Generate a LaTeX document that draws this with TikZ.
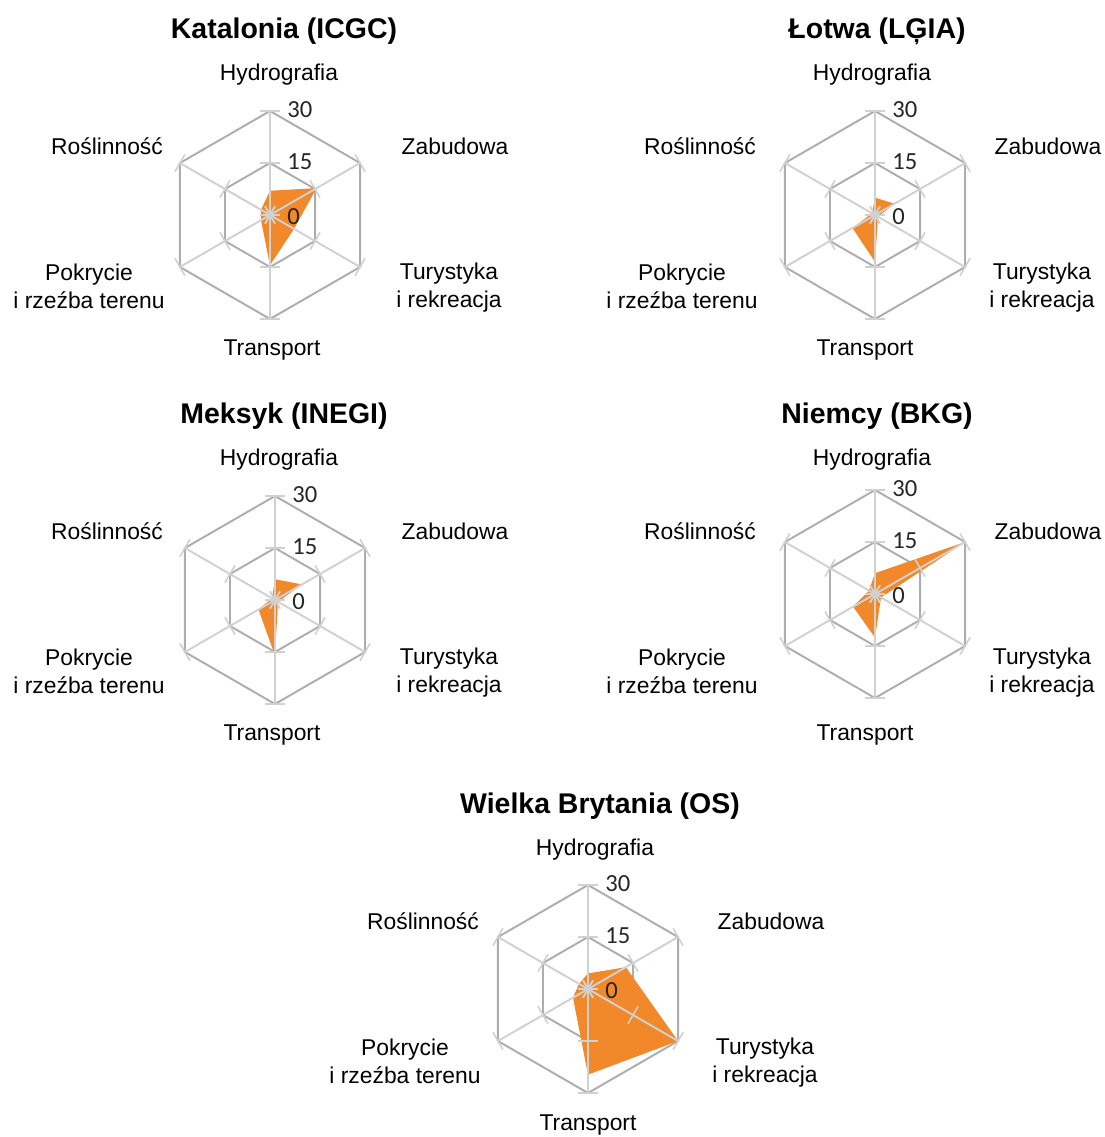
\documentclass[tikz,border=0pt]{standalone}
\usepackage{fontspec}
\setmainfont{Liberation Sans}
\newfontfamily\numfont{Carlito}
\definecolor{radarorange}{RGB}{241,136,41}

\begin{document}
\begin{tikzpicture}[x=0.02cm, y=0.02cm,
	grid/.style={draw=black!32, line width=1.1pt},
	spoke/.style={draw=black!18, line width=1.1pt},
	lab/.style={font=\fontsize{13}{16}\selectfont, align=center, inner sep=0pt},
	ttl/.style={font=\fontsize{16.2}{19}\selectfont\bfseries, inner sep=0pt},
	num/.style={font=\numfont\fontsize{14}{15}\selectfont, text=black!85, anchor=west, inner sep=0pt}]
	\useasboundingbox (0,0) rectangle (1105,-1137);
	% one radar chart per country: label origin, chart centre, title, values
	\foreach \k/\lx/\ly/\cx/\cy/\ttl/\vals in {
		a/279/75/270/215/{Katalonia (ICGC)}/{7,15.5,8,14.5,3,3},
		b/872/75/875/215/{Łotwa (LĢIA)}/{5,6.5,1,13.5,7.5,1},
		c/279/460/275/600/{Meksyk (INEGI)}/{6,9,1,16,5.5,1},
		d/872/460/875/594/{Niemcy (BKG)}/{6,30,2,12.6,7.3,2},
		e/595/850/588/989/{Wielka Brytania (OS)}/{4.5,12.6,30,24.7,5,3}}{
		\begin{scope}[shift={(\cx,-\cy)}]
			\foreach \r in {52,104}
				\draw[grid] (90:\r) \foreach \a in {30,-30,...,-210}{ -- (\a:\r)} -- cycle;
			\foreach \v [count=\i] in \vals
				\coordinate (\k-p\i) at ({150-60*\i}:{\v*104/30});
			\fill[radarorange] (\k-p1) -- (\k-p2) -- (\k-p3) -- (\k-p4) -- (\k-p5) -- (\k-p6) -- cycle;
			\foreach \a in {90,30,...,-210}{
				\begin{scope}[rotate=\a]
					\draw[spoke] (0,0) -- (104,0);
					\foreach \r in {0,52,104} \draw[spoke, line width=0.9pt] (\r,-10) -- (\r,10);
				\end{scope}}
			\node[num] (\k-n30) at (17,105) {30};
			\node[num] (\k-n15) at (17,53) {15};
			\node[num] (\k-n0) at (17,-2) {0};
		\end{scope}
		\begin{scope}[shift={(\lx,-\ly)}]
			\node[ttl] (\k-tit) at (5,44) {\ttl};
			\node[lab] (\k-hyd) at (0,0) {Hydrografia};
			\node[lab] (\k-zab) at (176,-71) {Zabudowa};
			\node[lab] (\k-ros) at (-172,-71) {Roślinność};
			\node[lab] (\k-tur) at (170,-213) {Turystyka\\i rekreacja};
			\node[lab] (\k-pok) at (-190,-211) {Pokrycie\\i rzeźba terenu};
			\node[lab] (\k-tra) at (-7,-275) {Transport};
		\end{scope}
	}
\end{tikzpicture}
\end{document}
